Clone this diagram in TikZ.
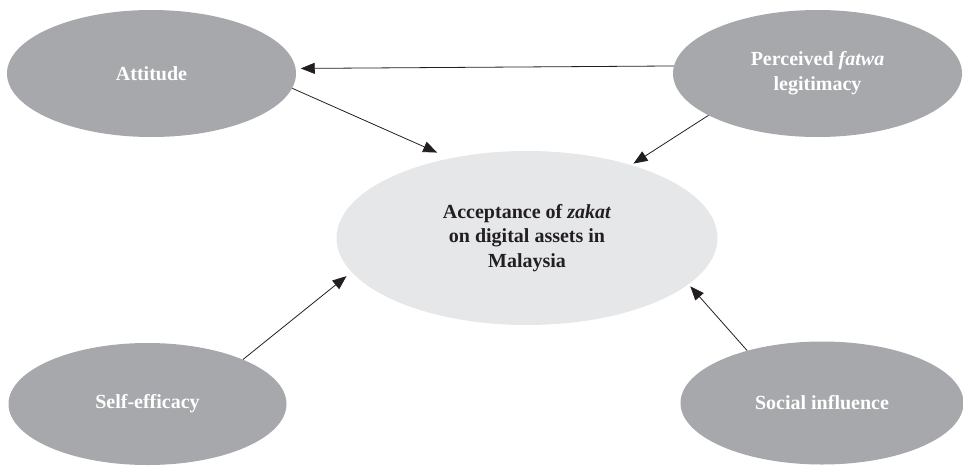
\documentclass[tikz,border=0pt]{standalone}
\usepackage{fontspec}
\setmainfont{Liberation Serif}
\usetikzlibrary{shapes.geometric,arrows.meta}
\definecolor{darkfill}{HTML}{A7A8AB}
\definecolor{lightfill}{HTML}{E6E7E8}
\definecolor{inkc}{HTML}{231F20}
\tikzset{
  outer/.style={ellipse, fill=darkfill, draw=none, inner sep=0pt,
    minimum width=289pt, minimum height=127pt, text=white, align=center,
    font=\fontsize{20}{24.7}\selectfont\bfseries},
  inner/.style={ellipse, fill=lightfill, draw=none, inner sep=0pt,
    minimum width=381pt, minimum height=174pt, text=inkc, align=center,
    font=\fontsize{20}{24.7}\selectfont\bfseries},
  link/.style={draw=inkc, line width=0.8pt, -{Triangle[length=14pt,width=11pt]}}
}
\begin{document}
\begin{tikzpicture}[x=1pt,y=-1pt]
\useasboundingbox (0,0) rectangle (963,466);
\node[outer] (att) at (151.5,73.5) {Attitude};
\node[outer] (perc) at (817.5,73.5) {Perceived \textit{fatwa}\\legitimacy};
\node[inner] (acc) at (527,238) {Acceptance of \textit{zakat}\\on digital assets in\\Malaysia};
\node[outer, minimum width=278pt, minimum height=122pt] (self) at (147.5,404) {Self-efficacy};
\node[outer, minimum width=283pt, minimum height=123pt] (soc) at (822,403) {Social influence};
\draw[link, shorten >=5pt] (perc.177.8) -- (att.2.2);
\draw[link, shorten >=14pt] (att.-6.9) -- (acc.134.8);
\draw[link, shorten >=2.6pt] (perc.201.3) -- (acc.35.7);
\draw[link, shorten >=6.4pt] (self.25.8) -- (acc.191.4);
\draw[link, shorten >=2.6pt] (soc.145.2) -- (acc.-16.9);
\end{tikzpicture}
\end{document}
